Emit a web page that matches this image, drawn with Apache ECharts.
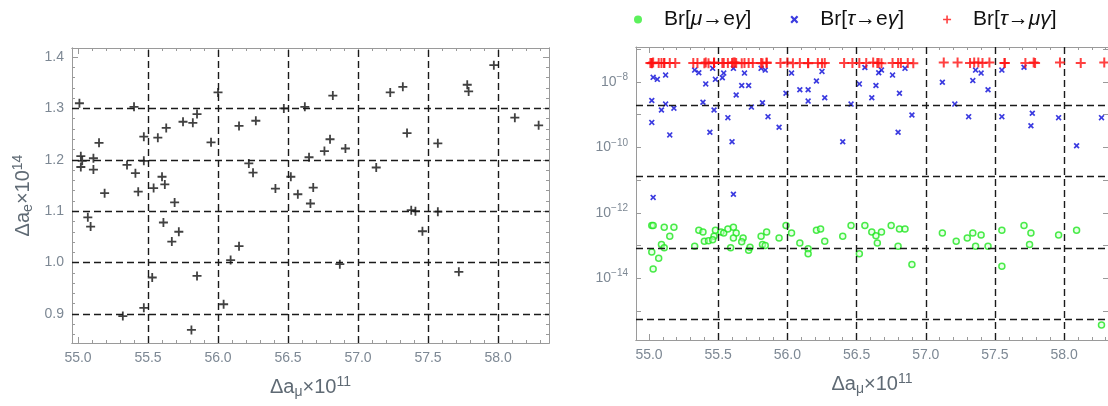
<!DOCTYPE html>
<html>
<head>
<meta charset="utf-8">
<script src="https://cdn.jsdelivr.net/npm/echarts@6/dist/echarts.min.js"></script>
<style>
  html, body { margin: 0; padding: 0; background: #fff; }
  #main { width: 1108px; height: 406px; }
</style>
</head>
<body>
<div id="main"></div>
<script>
// x of every parameter point (Δa_μ × 10^11), shared by left panel and Br[τ→μγ]
const pointX = [55.01, 55.40, 56.00, 55.85, 55.75, 55.82, 55.63, 55.47, 55.57, 55.15,
  55.95, 56.15, 56.27, 55.02, 55.03, 55.11, 55.02, 55.11, 55.35, 55.41,
  55.47, 55.43, 55.19, 55.54, 55.60, 55.62, 55.69, 56.22, 56.25, 56.41,
  55.07, 55.09, 55.61, 55.72, 55.67, 56.15, 56.09, 55.53, 55.85, 55.47,
  55.32, 56.04, 55.81, 56.47, 56.62, 56.82, 57.23, 57.32, 57.78, 57.79,
  57.97, 58.12, 58.29, 56.80, 56.76, 56.91, 56.65, 57.35, 57.57, 57.13,
  56.52, 56.57, 56.68, 56.66, 57.38, 57.41, 57.57, 57.46, 56.87, 57.72];
// Δa_e × 10^14
const aeY = [1.310, 1.303, 1.331, 1.289, 1.274, 1.272, 1.262, 1.245, 1.243, 1.233,
  1.234, 1.266, 1.276, 1.207, 1.198, 1.203, 1.186, 1.181, 1.190, 1.174,
  1.198, 1.138, 1.135, 1.145, 1.167, 1.152, 1.117, 1.193, 1.175, 1.144,
  1.088, 1.070, 1.078, 1.060, 1.041, 1.032, 1.005, 0.971, 0.974, 0.912,
  0.896, 0.919, 0.869, 1.300, 1.303, 1.325, 1.331, 1.342, 1.346, 1.333,
  1.384, 1.282, 1.267, 1.240, 1.217, 1.222, 1.205, 1.252, 1.232, 1.185,
  1.167, 1.133, 1.146, 1.115, 1.102, 1.100, 1.099, 1.061, 0.997, 0.982];
// Br[τ→μγ]
const tauMuY = [3.8e-8, 3.7e-8, 3.9e-8, 3.8e-8, 3.8e-8, 3.7e-8, 3.8e-8, 3.9e-8, 3.8e-8, 3.8e-8,
  3.8e-8, 3.7e-8, 3.8e-8, 3.8e-8, 3.9e-8, 3.8e-8, 3.7e-8, 3.8e-8, 3.8e-8, 3.9e-8,
  3.8e-8, 3.7e-8, 3.8e-8, 3.8e-8, 3.8e-8, 3.9e-8, 3.8e-8, 3.8e-8, 3.7e-8, 3.8e-8,
  3.8e-8, 3.8e-8, 3.9e-8, 3.8e-8, 3.7e-8, 3.8e-8, 3.8e-8, 3.8e-8, 3.9e-8, 3.8e-8,
  3.8e-8, 3.7e-8, 3.8e-8, 3.8e-8, 3.9e-8, 3.8e-8, 3.9e-8, 3.8e-8, 3.9e-8, 3.8e-8,
  3.9e-8, 3.8e-8, 3.9e-8, 3.8e-8, 3.8e-8, 3.7e-8, 3.8e-8, 3.9e-8, 3.8e-8, 3.9e-8,
  3.8e-8, 3.8e-8, 3.7e-8, 3.8e-8, 3.9e-8, 3.8e-8, 3.8e-8, 3.9e-8, 3.8e-8, 3.8e-8];

// Br[μ→eγ]
const muEgX = [55.02, 55.03, 55.02, 55.07, 55.03, 55.09, 55.11, 55.11, 55.15, 55.18,
  55.33, 55.36, 55.39, 55.40, 55.43, 55.47, 55.46, 55.48, 55.52, 55.54,
  55.57, 55.61, 55.63, 55.61, 55.59, 55.68, 55.67, 55.72, 55.73, 55.81,
  55.82, 55.84, 55.85, 55.94, 55.99, 56.03, 56.09, 56.15, 56.15, 56.21,
  56.24, 56.27, 56.40, 56.46, 56.52, 56.56, 56.61, 56.64, 56.68, 56.65,
  56.75, 56.81, 56.80, 56.85, 56.90, 57.12, 57.22, 57.30, 57.34, 57.36,
  57.40, 57.45, 57.55, 57.55, 57.71, 57.76, 57.75, 57.96, 58.09, 58.27];
const muEgY = [4.1e-13, 4.1e-13, 6.3e-14, 4.1e-14, 1.9e-14, 1.07e-13, 8.5e-14, 3.6e-13, 1.9e-13, 3.6e-13,
  9.5e-14, 2.9e-13, 2.6e-13, 1.35e-13, 1.4e-13, 1.9e-13, 1.5e-13, 2.9e-13, 2.6e-13, 2.4e-13,
  3.2e-13, 3.6e-13, 2.4e-13, 1.7e-13, 8.5e-14, 1.7e-13, 1.3e-13, 7.1e-14, 8.9e-14, 1.9e-13,
  1.07e-13, 1.0e-13, 2.6e-13, 1.7e-13, 4.1e-13, 2.4e-13, 1.2e-13, 7.9e-14, 5.6e-14, 2.9e-13,
  3.2e-13, 1.35e-13, 1.9e-13, 4.1e-13, 5.6e-14, 4.1e-13, 2.6e-13, 2.0e-13, 2.6e-13, 1.2e-13,
  4.1e-13, 3.2e-13, 9.5e-14, 3.2e-13, 2.6e-14, 2.4e-13, 1.35e-13, 1.7e-13, 2.4e-13, 9.5e-14,
  2.1e-13, 9.5e-14, 2.9e-13, 2.3e-14, 4.1e-13, 2.4e-13, 1.07e-13, 2.1e-13, 2.9e-13, 3.7e-16];

// Br[τ→eγ]
const tauEgX = [55.03, 55.06, 55.12, 55.02, 55.09, 55.12, 55.18, 55.02, 55.15, 55.33,
  55.36, 55.41, 55.39, 55.46, 55.48, 55.47, 55.44, 55.54, 55.53, 55.61,
  55.63, 55.57, 55.60, 55.69, 55.67, 55.72, 55.74, 55.81, 55.84, 55.82,
  55.86, 55.94, 55.99, 56.03, 56.09, 56.15, 56.15, 56.21, 56.25, 56.27,
  56.40, 56.46, 56.52, 56.56, 56.61, 56.66, 56.68, 56.76, 56.85, 56.64,
  56.81, 56.90, 56.80, 57.12, 57.21, 57.31, 57.34, 57.36, 57.40, 57.45,
  57.55, 57.55, 57.71, 57.77, 57.76, 57.96, 58.09, 58.27, 55.03, 55.61];
const tauEgY = [1.38e-8, 1.2e-8, 1.62e-8, 2.7e-9, 1.38e-9, 2.1e-9, 1.58e-9, 5.8e-10, 2.4e-10, 2.3e-8,
  1.9e-8, 8.7e-9, 2.4e-9, 2.6e-8, 1.2e-8, 1.38e-9, 2.9e-10, 1.86e-8, 1.35e-8, 2.6e-8,
  4.0e-9, 8.1e-10, 1.48e-10, 1.86e-8, 7.8e-9, 7.8e-9, 1.7e-9, 2.6e-8, 2.3e-8, 2.3e-9,
  8.7e-10, 4.1e-10, 4.5e-9, 1.86e-8, 5.8e-9, 5.8e-9, 2.6e-9, 1.07e-8, 2.1e-8, 3.3e-9,
  1.48e-10, 2.1e-9, 8.7e-9, 2.75e-8, 3.3e-9, 1.9e-8, 2.3e-8, 1.62e-8, 2.6e-8, 7.8e-9,
  4.5e-9, 9.8e-10, 2.9e-10, 9.8e-9, 2.1e-9, 8.7e-10, 1.1e-8, 2.3e-8, 1.86e-8, 5.8e-9,
  2.3e-8, 8.7e-10, 2.8e-8, 1.1e-9, 4.6e-10, 8.1e-10, 1.12e-10, 8.1e-10, 2.95e-12, 3.7e-12];

// tick labels and dashed grid line positions
const xMajor = [55.0, 55.5, 56.0, 56.5, 57.0, 57.5, 58.0];
const yMajor = [0.9, 1.0, 1.1, 1.2, 1.3, 1.4];
const leftGridX = [55.5, 56.0, 56.5, 57.0, 57.5, 58.0];
const leftGridY = [0.9, 1.0, 1.1, 1.2, 1.3];
const rightGridX = [55.5, 56.0, 56.5, 57.0, 57.5, 58.0];
const rightGridY = [2.0e-9, 1.35e-11, 8.3e-14, 5.6e-16];

const legendNames = ['Br[μ→eγ]', 'Br[τ→eγ]', 'Br[τ→μγ]'];

// minor tick positions
const xMinor = [];
for (let v = 550; v <= 583; v++) xMinor.push(v / 10);
const yMinor = [];
for (let v = 43; v <= 70; v++) yMinor.push(v / 50);

const plusPath = 'path://M4,0H6V4H10V6H6V10H4V6H0V4H4Z';
const crossPath = 'path://M0,2L2,0L5,3L8,0L10,2L7,5L10,8L8,10L5,7L2,10L0,8L3,5Z';

const FONT = '"Liberation Sans", Arial, sans-serif';
const frameColor = '#9a9a9a';
const labelColor = '#7d8894';
const nameColor = '#5f6a74';

const chart = echarts.init(document.getElementById('main'));

function dashedX(xs) {
  return xs.map(v => ({ xAxis: v }));
}

function tickAxis(gridIndex, pos, min, max, ticks, len, labels, digits) {
  return {
    type: 'value', gridIndex, position: pos, min, max,
    axisLine: { show: true, onZero: false, lineStyle: { color: frameColor, width: 1 } },
    axisTick: { show: true, inside: true, length: len, customValues: ticks, lineStyle: { color: frameColor } },
    splitLine: { show: false },
    axisLabel: labels ? {
      show: true, customValues: labels, color: labelColor, fontSize: 14, fontFamily: FONT, margin: 8,
      formatter: v => v.toFixed(digits)
    } : { show: false }
  };
}

function logAxis(gridIndex, pos, showLabel) {
  return {
    type: 'log', logBase: 10, gridIndex, position: pos, min: 1.29e-16, max: 1.17e-7,
    axisLine: { show: true, onZero: false, lineStyle: { color: frameColor, width: 1 } },
    axisTick: { show: true, inside: true, length: 5, lineStyle: { color: frameColor } },
    splitLine: { show: false },
    axisLabel: {
      show: showLabel, margin: 8, fontFamily: FONT,
      formatter: v => {
        const e = Math.log10(v);
        const r = Math.round(e);
        if (Math.abs(e - r) > 0.01 || r % 2 !== 0) return '';
        return '{b|10}{s|−' + (-r) + '}';
      },
      rich: {
        b: { fontSize: 14, color: labelColor, fontFamily: FONT },
        s: { fontSize: 10, color: labelColor, fontFamily: FONT, padding: [0, 0, 9, 0] }
      }
    }
  };
}

const nameRich = {
  t: { fontSize: 20, color: nameColor, fontFamily: FONT },
  s: { fontSize: 14, color: nameColor, fontFamily: FONT, padding: [9, 0, 0, 0] },
  p: { fontSize: 14, color: nameColor, fontFamily: FONT, padding: [0, 0, 11, 0] }
};

const xLeft = [54.957, 58.364];
const xRight = [54.906, 58.317];
const yLeft = [0.8436, 1.4175];

const option = {
  animation: false,
  backgroundColor: '#fff',
  grid: [
    { left: 72, top: 48, width: 477, height: 295 },
    { left: 636, top: 47, width: 474, height: 293 }
  ],
  legend: {
    left: 629, top: 4,
    itemWidth: 10, itemHeight: 8, itemGap: 39,
    data: [
      { name: legendNames[0], icon: 'circle', itemStyle: { color: '#33ee33', borderWidth: 0 } },
      { name: legendNames[1], icon: crossPath },
      { name: legendNames[2], icon: plusPath }
    ],
    formatter: name => {
      const m = name.match(/^Br\[(.)→(.*)γ\]$/);
      return '{f|Br[}{i|' + m[1] + '}{n|→}' +
        (m[2] === 'e' ? '{n|e}' : '{i|' + m[2] + '}') + '{i|γ}{n|]}';
    },
    textStyle: {
      rich: {
        f: { fontSize: 21, color: '#111', fontFamily: FONT, padding: [0, 0, 0, 16] },
        n: { fontSize: 21, color: '#111', fontFamily: FONT },
        i: { fontSize: 21, color: '#111', fontFamily: FONT, fontStyle: 'italic' }
      }
    }
  },
  xAxis: [
    Object.assign(tickAxis(0, 'bottom', xLeft[0], xLeft[1], xMajor, 6, xMajor, 1), {
      name: '{t|Δa}{s|μ}{t|×10}{p|11}', nameLocation: 'middle', nameGap: 32,
      nameTextStyle: { rich: nameRich }
    }),
    tickAxis(0, 'top', xLeft[0], xLeft[1], xMajor, 6, null),
    tickAxis(0, 'bottom', xLeft[0], xLeft[1], xMinor, 3, null),
    tickAxis(0, 'top', xLeft[0], xLeft[1], xMinor, 3, null),
    Object.assign(tickAxis(1, 'bottom', xRight[0], xRight[1], xMajor, 6, xMajor, 1), {
      name: '{t|Δa}{s|μ}{t|×10}{p|11}', nameLocation: 'middle', nameGap: 32,
      nameTextStyle: { rich: nameRich }
    }),
    tickAxis(1, 'top', xRight[0], xRight[1], xMajor, 6, null),
    tickAxis(1, 'bottom', xRight[0], xRight[1], xMinor, 3, null),
    tickAxis(1, 'top', xRight[0], xRight[1], xMinor, 3, null)
  ],
  yAxis: [
    Object.assign(tickAxis(0, 'left', yLeft[0], yLeft[1], yMajor, 6, yMajor, 1), {
      name: '{t|Δa}{s|e}{t|×10}{p|14}', nameLocation: 'middle', nameGap: 36,
      nameTextStyle: { rich: nameRich }
    }),
    tickAxis(0, 'right', yLeft[0], yLeft[1], yMajor, 6, null),
    tickAxis(0, 'left', yLeft[0], yLeft[1], yMinor, 3, null),
    tickAxis(0, 'right', yLeft[0], yLeft[1], yMinor, 3, null),
    logAxis(1, 'left', true),
    logAxis(1, 'right', false)
  ],
  series: [
    {
      type: 'scatter', xAxisIndex: 0, yAxisIndex: 0, z: 3,
      symbol: plusPath, symbolSize: 9,
      itemStyle: { color: '#111' },
      data: pointX.map((x, i) => [x, aeY[i]]),
      markLine: {
        silent: true, symbol: 'none', label: { show: false },
        lineStyle: { color: '#1a1a1a', type: [7, 4], width: 1.4 },
        data: dashedX(leftGridX).concat(leftGridY.map(v => ({ yAxis: v })))
      }
    },
    {
      name: legendNames[0], type: 'scatter', xAxisIndex: 4, yAxisIndex: 4, z: 3,
      symbol: 'circle', symbolSize: 6,
      itemStyle: { color: 'rgba(210,255,210,0.6)', borderColor: '#1ee61e', borderWidth: 1.5 },
      data: muEgX.map((x, i) => [x, muEgY[i]]),
      markLine: {
        silent: true, symbol: 'none', label: { show: false },
        lineStyle: { color: '#1a1a1a', type: [7, 4], width: 1.4 },
        data: dashedX(rightGridX).concat(rightGridY.map(v => [
          { coord: [xRight[0], v] }, { coord: [xRight[1], v] }
        ]))
      }
    },
    {
      name: legendNames[1], type: 'scatter', xAxisIndex: 4, yAxisIndex: 4, z: 4,
      symbol: crossPath, symbolSize: 6,
      itemStyle: { color: '#0a0ad8' },
      data: tauEgX.map((x, i) => [x, tauEgY[i]])
    },
    {
      name: legendNames[2], type: 'scatter', xAxisIndex: 4, yAxisIndex: 4, z: 5,
      symbol: plusPath, symbolSize: 10,
      itemStyle: { color: '#ff1010' },
      data: pointX.map((x, i) => [x, tauMuY[i]])
    }
  ]
};

chart.setOption(option);
</script>
</body>
</html>
